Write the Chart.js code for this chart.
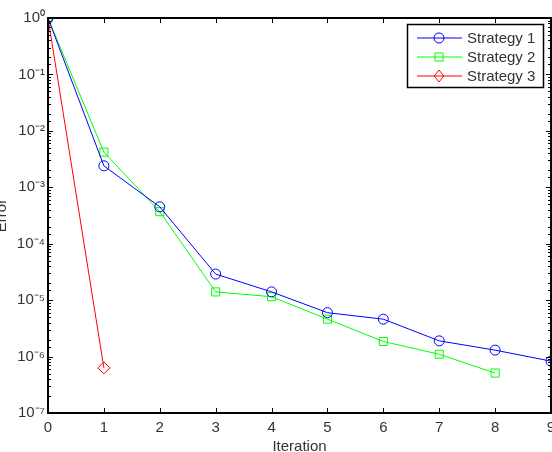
<!DOCTYPE html>
<html><head><meta charset="utf-8">
<script src="https://cdn.jsdelivr.net/npm/chart.js@4/dist/chart.umd.min.js"></script>
<style>html,body{margin:0;padding:0;background:#fff}#wrap{width:552px;height:452px}</style>
</head><body><div id="wrap"><canvas id="c" width="552" height="452"></canvas></div>
<script>
const iterations = [0,1,2,3,4,5,6,7,8,9];
const strategy1 = [1, 2.4e-3, 4.5e-4, 2.9e-5, 1.4e-5, 6.0e-6, 4.6e-6, 1.9e-6, 1.3e-6, 8.3e-7];
const strategy2 = [1, 4.2e-3, 3.7e-4, 1.4e-5, 1.15e-5, 4.6e-6, 1.85e-6, 1.1e-6, 5.1e-7];
const strategy3 = [1, 6.3e-7];
const seriesNames = ['Strategy 1','Strategy 2','Strategy 3'];
const xTickLabels = ['0','1','2','3','4','5','6','7','8','9'];
const yExponents = [0,-1,-2,-3,-4,-5,-6,-7];

const sup = {'0':'⁰','1':'¹','2':'²','3':'³','4':'⁴','5':'⁵','6':'⁶','7':'⁷','8':'⁸','9':'⁹','-':'⁻'};
function toSup(n){return String(n).split('').map(c=>sup[c]).join('');}

function pts(arr){return arr.map((v,i)=>({x:iterations[i],y:v}));}
const FONT = "'Liberation Sans', Arial, sans-serif";
const TXT = '#333';

const boxTicks = {
  id:'boxTicks',
  afterDraw(chart){
    const ctx=chart.ctx, a=chart.chartArea, xs=chart.scales.x, ys=chart.scales.y;
    ctx.save();
    ctx.strokeStyle='#000'; ctx.lineWidth=1;
    ys.ticks.forEach(t=>{
      const v=t.value; const e=Math.log10(v);
      const major=Math.abs(e-Math.round(e))<1e-9;
      const y=Math.round(ys.getPixelForValue(v))+0.5;
      const len=major?5:3;
      ctx.beginPath();
      ctx.moveTo(a.left,y);ctx.lineTo(a.left+len,y);
      ctx.moveTo(a.right,y);ctx.lineTo(a.right-len,y);
      ctx.stroke();
    });
    iterations.forEach(v=>{
      const x=Math.round(xs.getPixelForValue(v))+0.5;
      ctx.beginPath();
      ctx.moveTo(x,a.bottom);ctx.lineTo(x,a.bottom-5);
      ctx.moveTo(x,a.top);ctx.lineTo(x,a.top+5);
      ctx.stroke();
    });
    ctx.lineWidth=2;
    ctx.strokeRect(a.left,a.top,a.right-a.left,a.bottom-a.top);
    // legend
    const lx=407, ly=24, lw=136, lh=63;
    ctx.fillStyle='#fff'; ctx.fillRect(lx,ly,lw,lh);
    ctx.lineWidth=1.5; ctx.strokeStyle='#000';
    ctx.strokeRect(lx+0.5,ly+0.5,lw,lh);
    ctx.font='15px '+FONT; ctx.textBaseline='middle'; ctx.textAlign='left';
    chart.data.datasets.forEach((ds,i)=>{
      const y=ly+14+i*19;
      ctx.strokeStyle=ds.borderColor; ctx.lineWidth=1;
      ctx.beginPath();ctx.moveTo(lx+10,y);ctx.lineTo(lx+55,y);ctx.stroke();
      drawMarker(ctx,ds.pointStyle,lx+32,y,ds.pointRadius,ds.borderColor);
      ctx.fillStyle=TXT;
      ctx.fillText(ds.label,lx+60,y+1);
    });
    ctx.restore();
  }
};
function drawMarker(ctx,style,x,y,r,c){
  ctx.save();ctx.strokeStyle=c;ctx.lineWidth=1;ctx.beginPath();
  if(style==='circle'){ctx.arc(x,y,r,0,Math.PI*2);}
  else if(style==='rect'){const s=r*Math.SQRT1_2;ctx.rect(x-s,y-s,2*s,2*s);}
  else {ctx.moveTo(x,y-r);ctx.lineTo(x+r*0.8,y);ctx.lineTo(x,y+r);ctx.lineTo(x-r*0.8,y);ctx.closePath();}
  ctx.stroke();ctx.restore();
}

const common = {fill:false,borderWidth:1,pointBorderWidth:1,pointBackgroundColor:'rgba(0,0,0,0)',tension:0,clip:0};
new Chart(document.getElementById('c'),{
  type:'line',
  data:{datasets:[
    Object.assign({label:seriesNames[0],data:pts(strategy1),borderColor:'#0000ff',pointBorderColor:'#0000ff',pointStyle:'circle',pointRadius:5},common),
    Object.assign({label:seriesNames[1],data:pts(strategy2),borderColor:'#00ff00',pointBorderColor:'#00ff00',pointStyle:'rect',pointRadius:5.7},common),
    Object.assign({label:seriesNames[2],data:pts(strategy3),borderColor:'#ff0000',pointBorderColor:'#ff0000',pointStyle:'rectRot',pointRadius:6},common)
  ]},
  options:{
    responsive:false,animation:false,
    layout:{autoPadding:false,padding:{top:18,right:1,left:0,bottom:0}},
    plugins:{legend:{display:false},tooltip:{enabled:false}},
    scales:{
      x:{type:'linear',min:0,max:9,
        afterFit(s){s.height=39;s.paddingRight=0;s.paddingLeft=0;},
        grid:{display:false,drawTicks:false},border:{display:false},
        ticks:{stepSize:1,padding:6,color:TXT,font:{family:FONT,size:15},callback:(v)=>xTickLabels[v]},
        afterBuildTicks(s){s.ticks=iterations.map(v=>({value:v}));},
        title:{display:true,text:'Iteration',color:TXT,font:{family:FONT,size:15},padding:{top:0,bottom:-4}}
      },
      y:{type:'logarithmic',min:1e-7,max:1,
        afterFit(s){s.width=48;s.paddingTop=0;s.paddingBottom=0;},
        grid:{display:false,drawTicks:false},border:{display:false},
        ticks:{padding:3,color:TXT,font:{family:FONT,size:15},autoSkip:false,
          callback:(v)=>{const e=Math.log10(v);return Math.abs(e-Math.round(e))<1e-9 && yExponents.includes(Math.round(e))?'10'+toSup(Math.round(e)):'';}},
        title:{display:true,text:'Error',color:TXT,font:{family:FONT,size:15},padding:{top:-7,bottom:0}}
      }
    }
  },
  plugins:[boxTicks]
});
</script></body></html>
